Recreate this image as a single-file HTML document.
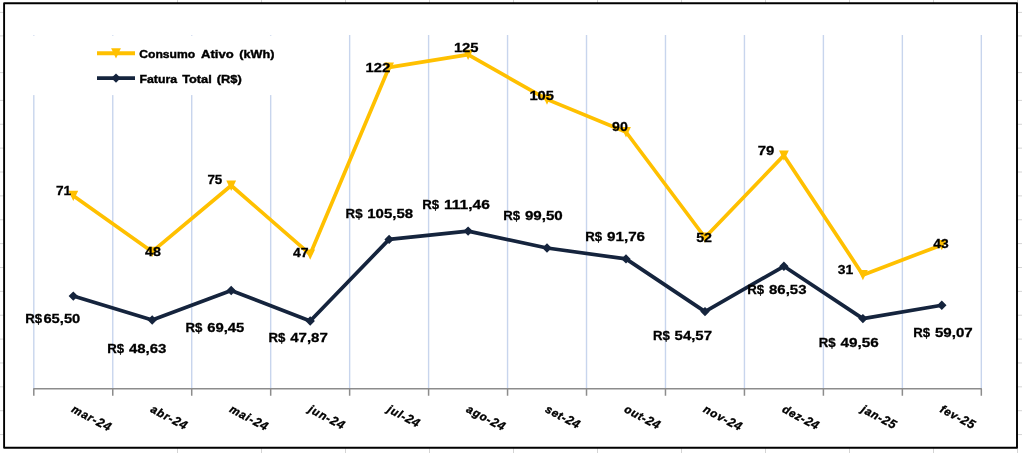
<!DOCTYPE html>
<html lang="pt-BR"><head><meta charset="utf-8"><title>Consumo Ativo e Fatura Total</title>
<style>html,body{margin:0;padding:0;background:#fff;overflow:hidden}svg{display:block}text{font-family:"Liberation Sans",sans-serif;font-weight:bold}.dl{font-size:13.6px;fill:#000;stroke:#000;stroke-width:0.3px}.lg{font-size:11.2px;fill:#000;stroke:#000;stroke-width:0.4px}.ax{font-size:12.5px;font-style:italic;fill:#000;letter-spacing:0.45px;stroke:#000;stroke-width:0.3px}</style></head><body>
<svg width="1022" height="453" viewBox="0 0 1022 453">
<rect width="1022" height="453" fill="#fff"/>
<path d="M0 12.4H1022M0 35.9H1022M0 72.6H1022M0 100.4H1022M0 124.27000000000001H1022M0 148.14000000000001H1022M0 172.01H1022M0 195.88H1022M0 219.75H1022M0 243.62H1022M0 267.49H1022M0 291.36H1022M0 315.23H1022M0 339.1H1022M0 362.97H1022M0 386.84000000000003H1022M0 410.71000000000004H1022M0 434.58000000000004H1022M177.5 0V453M261.5 0V453M345.5 0V453M429.5 0V453M513.5 0V453M597.5 0V453M681.5 0V453M765.5 0V453M849.5 0V453M933.5 0V453M1017.5 0V453" stroke="#D4D4D4" stroke-width="1" fill="none"/>
<rect x="4.1" y="3.3" width="1012.9" height="444.5" fill="#fff" stroke="#000" stroke-width="1.9" stroke-linejoin="round"/>
<path d="M33.80 35.1V388.75M112.76 35.1V388.75M191.72 35.1V388.75M270.68 35.1V388.75M349.64 35.1V388.75M428.60 35.1V388.75M507.56 35.1V388.75M586.52 35.1V388.75M665.48 35.1V388.75M744.44 35.1V388.75M823.40 35.1V388.75M902.36 35.1V388.75M981.32 35.1V388.75" stroke="#C8D5ED" stroke-width="1.4" fill="none"/>
<rect x="30" y="35.7" width="250" height="59.4" fill="#fff"/>
<path d="M33.3 388.75H981.8199999999999M33.80 388.75V395.65M112.76 388.75V395.65M191.72 388.75V395.65M270.68 388.75V395.65M349.64 388.75V395.65M428.60 388.75V395.65M507.56 388.75V395.65M586.52 388.75V395.65M665.48 388.75V395.65M744.44 388.75V395.65M823.40 388.75V395.65M902.36 388.75V395.65M981.32 388.75V395.65" stroke="#8C8C8C" stroke-width="1.5" fill="none"/>
<polyline points="73.3,195.7 152.2,251.7 231.2,185.5 310.2,254.3 389.1,67.3 468.1,54.6 547.0,99.4 626.0,132.0 705.0,237.5 783.9,155.4 862.9,274.9 941.8,244.9" fill="none" stroke="#FFC000" stroke-width="3.7" stroke-linejoin="round" stroke-linecap="round"/>
<path d="M68.4 190.8H78.2L73.3 201.1ZM147.3 246.8H157.1L152.2 257.1ZM226.3 180.6H236.1L231.2 190.9ZM305.3 249.4H315.1L310.2 259.7ZM384.2 62.4H394.0L389.1 72.7ZM463.2 49.7H473.0L468.1 60.0ZM542.1 94.5H551.9L547.0 104.8ZM621.1 127.1H630.9L626.0 137.4ZM700.1 232.6H709.9L705.0 242.9ZM779.0 150.5H788.8L783.9 160.8ZM858.0 270.0H867.8L862.9 280.3ZM936.9 240.0H946.7L941.8 250.3Z" fill="#FFC000"/>
<polyline points="73.3,296.1 152.2,320.0 231.2,290.5 310.2,321.0 389.1,239.4 468.1,231.1 547.0,248.0 626.0,258.9 705.0,311.6 783.9,266.3 862.9,318.6 941.8,305.2" fill="none" stroke="#15243D" stroke-width="3.7" stroke-linejoin="round" stroke-linecap="round"/>
<path d="M68.6 296.1L73.3 291.4L78.0 296.1L73.3 300.8ZM147.5 320.0L152.2 315.3L156.9 320.0L152.2 324.7ZM226.5 290.5L231.2 285.8L235.9 290.5L231.2 295.2ZM305.5 321.0L310.2 316.3L314.9 321.0L310.2 325.7ZM384.4 239.4L389.1 234.7L393.8 239.4L389.1 244.1ZM463.4 231.1L468.1 226.4L472.8 231.1L468.1 235.8ZM542.3 248.0L547.0 243.3L551.7 248.0L547.0 252.7ZM621.3 258.9L626.0 254.2L630.7 258.9L626.0 263.6ZM700.3 311.6L705.0 306.9L709.7 311.6L705.0 316.3ZM779.2 266.3L783.9 261.6L788.6 266.3L783.9 271.0ZM858.2 318.6L862.9 313.9L867.6 318.6L862.9 323.3ZM937.1 305.2L941.8 300.5L946.5 305.2L941.8 309.9Z" fill="#15243D"/>
<path d="M97 53.3H135" stroke="#FFC000" stroke-width="3.9"/><path d="M111.1 48.3H120.9L116.0 58.6Z" fill="#FFC000"/>
<path d="M97 78.1H135" stroke="#15243D" stroke-width="3.7"/><path d="M111.3 78.1L116.0 73.4L120.7 78.1L116.0 82.8Z" fill="#15243D"/>
<text class="lg" y="57.7"><tspan x="139.2" textLength="56.1" lengthAdjust="spacingAndGlyphs">Consumo</tspan> <tspan x="201.0" textLength="32.7" lengthAdjust="spacingAndGlyphs">Ativo</tspan> <tspan x="239.3" textLength="35.1" lengthAdjust="spacingAndGlyphs">(kWh)</tspan></text>
<text class="lg" y="82.5"><tspan x="139.5" textLength="37.5" lengthAdjust="spacingAndGlyphs">Fatura</tspan> <tspan x="182.2" textLength="29.6" lengthAdjust="spacingAndGlyphs">Total</tspan> <tspan x="216.7" textLength="25.1" lengthAdjust="spacingAndGlyphs">(R$)</tspan></text>
<text class="dl" x="56.0" y="195.0" textLength="15.2" lengthAdjust="spacingAndGlyphs">71</text>
<text class="dl" x="145.1" y="255.7" textLength="15.9" lengthAdjust="spacingAndGlyphs">48</text>
<text class="dl" x="207.4" y="183.6" textLength="14.9" lengthAdjust="spacingAndGlyphs">75</text>
<text class="dl" x="292.9" y="256.9" textLength="15.6" lengthAdjust="spacingAndGlyphs">47</text>
<text class="dl" x="365.5" y="71.8" textLength="24.9" lengthAdjust="spacingAndGlyphs">122</text>
<text class="dl" x="453.9" y="51.7" textLength="24.7" lengthAdjust="spacingAndGlyphs">125</text>
<text class="dl" x="529.4" y="99.8" textLength="24.6" lengthAdjust="spacingAndGlyphs">105</text>
<text class="dl" x="612.1" y="130.5" textLength="15.7" lengthAdjust="spacingAndGlyphs">90</text>
<text class="dl" x="696.2" y="241.7" textLength="15.8" lengthAdjust="spacingAndGlyphs">52</text>
<text class="dl" x="757.7" y="154.5" textLength="16.6" lengthAdjust="spacingAndGlyphs">79</text>
<text class="dl" x="837.7" y="273.5" textLength="15.5" lengthAdjust="spacingAndGlyphs">31</text>
<text class="dl" x="933.2" y="248.0" textLength="15.4" lengthAdjust="spacingAndGlyphs">43</text>
<text class="dl" y="323.2"><tspan x="25.3" textLength="16.9" lengthAdjust="spacingAndGlyphs">R$</tspan><tspan x="43.4" textLength="36.9" lengthAdjust="spacingAndGlyphs">65,50</tspan></text>
<text class="dl" y="353.2"><tspan x="107.2" textLength="16.9" lengthAdjust="spacingAndGlyphs">R$</tspan> <tspan x="128.9" textLength="37.6" lengthAdjust="spacingAndGlyphs">48,63</tspan></text>
<text class="dl" y="331.9"><tspan x="185.5" textLength="16.9" lengthAdjust="spacingAndGlyphs">R$</tspan> <tspan x="207.2" textLength="37.2" lengthAdjust="spacingAndGlyphs">69,45</tspan></text>
<text class="dl" y="341.7"><tspan x="268.5" textLength="16.9" lengthAdjust="spacingAndGlyphs">R$</tspan> <tspan x="290.2" textLength="37.6" lengthAdjust="spacingAndGlyphs">47,87</tspan></text>
<text class="dl" y="218.2"><tspan x="345.6" textLength="16.9" lengthAdjust="spacingAndGlyphs">R$</tspan> <tspan x="367.3" textLength="45.8" lengthAdjust="spacingAndGlyphs">105,58</tspan></text>
<text class="dl" y="208.8"><tspan x="422.2" textLength="16.9" lengthAdjust="spacingAndGlyphs">R$</tspan> <tspan x="443.9" textLength="46.0" lengthAdjust="spacingAndGlyphs">111,46</tspan></text>
<text class="dl" y="220.2"><tspan x="503.2" textLength="16.9" lengthAdjust="spacingAndGlyphs">R$</tspan> <tspan x="524.9" textLength="37.9" lengthAdjust="spacingAndGlyphs">99,50</tspan></text>
<text class="dl" y="241.1"><tspan x="585.3" textLength="16.9" lengthAdjust="spacingAndGlyphs">R$</tspan> <tspan x="607.0" textLength="38.1" lengthAdjust="spacingAndGlyphs">91,76</tspan></text>
<text class="dl" y="340.4"><tspan x="652.9" textLength="16.9" lengthAdjust="spacingAndGlyphs">R$</tspan> <tspan x="674.6" textLength="37.4" lengthAdjust="spacingAndGlyphs">54,57</tspan></text>
<text class="dl" y="294.3"><tspan x="747.3" textLength="16.9" lengthAdjust="spacingAndGlyphs">R$</tspan> <tspan x="769.0" textLength="37.5" lengthAdjust="spacingAndGlyphs">86,53</tspan></text>
<text class="dl" y="346.6"><tspan x="818.7" textLength="16.9" lengthAdjust="spacingAndGlyphs">R$</tspan> <tspan x="840.4" textLength="38.3" lengthAdjust="spacingAndGlyphs">49,56</tspan></text>
<text class="dl" y="336.5"><tspan x="913.2" textLength="16.9" lengthAdjust="spacingAndGlyphs">R$</tspan> <tspan x="934.9" textLength="37.8" lengthAdjust="spacingAndGlyphs">59,07</tspan></text>
<text class="ax" transform="translate(70.8 411.6) rotate(28)"><tspan style="font-size:11.3px;letter-spacing:0.90px;stroke-width:0.42px">mar-</tspan><tspan style="letter-spacing:0.45px">24</tspan></text>
<text class="ax" transform="translate(149.7 411.6) rotate(28)"><tspan style="font-size:11.3px;letter-spacing:0.90px;stroke-width:0.42px">abr-</tspan><tspan style="letter-spacing:0.45px">24</tspan></text>
<text class="ax" transform="translate(228.7 411.6) rotate(28)"><tspan style="font-size:11.3px;letter-spacing:0.90px;stroke-width:0.42px">mai-</tspan><tspan style="letter-spacing:0.45px">24</tspan></text>
<text class="ax" transform="translate(307.7 411.6) rotate(28)"><tspan style="font-size:11.3px;letter-spacing:0.90px;stroke-width:0.42px">jun-</tspan><tspan style="letter-spacing:0.45px">24</tspan></text>
<text class="ax" transform="translate(386.6 411.6) rotate(28)"><tspan style="font-size:11.3px;letter-spacing:0.80px;stroke-width:0.42px">jul-</tspan><tspan style="letter-spacing:0.35px">24</tspan></text>
<text class="ax" transform="translate(465.6 411.6) rotate(28)"><tspan style="font-size:11.3px;letter-spacing:0.85px;stroke-width:0.42px">ago-</tspan><tspan style="letter-spacing:0.40px">24</tspan></text>
<text class="ax" transform="translate(544.5 411.6) rotate(28)"><tspan style="font-size:11.3px;letter-spacing:0.70px;stroke-width:0.42px">set-</tspan><tspan style="letter-spacing:0.25px">24</tspan></text>
<text class="ax" transform="translate(623.5 411.6) rotate(28)"><tspan style="font-size:11.3px;letter-spacing:0.70px;stroke-width:0.42px">out-</tspan><tspan style="letter-spacing:0.25px">24</tspan></text>
<text class="ax" transform="translate(702.5 411.6) rotate(28)"><tspan style="font-size:11.3px;letter-spacing:0.85px;stroke-width:0.42px">nov-</tspan><tspan style="letter-spacing:0.40px">24</tspan></text>
<text class="ax" transform="translate(781.4 411.6) rotate(28)"><tspan style="font-size:11.3px;letter-spacing:0.65px;stroke-width:0.42px">dez-</tspan><tspan style="letter-spacing:0.20px">24</tspan></text>
<text class="ax" transform="translate(860.4 411.6) rotate(28)"><tspan style="font-size:11.3px;letter-spacing:0.80px;stroke-width:0.42px">jan-</tspan><tspan style="letter-spacing:0.35px">25</tspan></text>
<text class="ax" transform="translate(939.3 411.6) rotate(28)"><tspan style="font-size:11.3px;letter-spacing:0.80px;stroke-width:0.42px">fev-</tspan><tspan style="letter-spacing:0.35px">25</tspan></text>
</svg></body></html>
